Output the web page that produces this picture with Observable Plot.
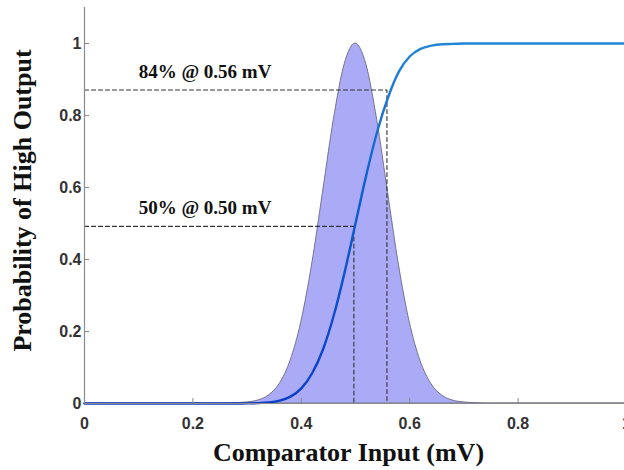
<!DOCTYPE html>
<html>
<head>
<meta charset="utf-8">
<script src="https://cdn.jsdelivr.net/npm/d3@7"></script>
<script src="https://cdn.jsdelivr.net/npm/@observablehq/plot@0.6"></script>
<style>
  html, body { margin: 0; padding: 0; background: #fff; overflow: hidden; }
  #chart { width: 624px; height: 470px; }
</style>
</head>
<body>
<div id="chart"></div>
<script>
// Comparator input (mV) sample points
const inputs = [0, 0.26, 0.28, 0.30, 0.32, 0.34, 0.36, 0.38, 0.40, 0.42, 0.44, 0.46, 0.48, 0.50,
                0.52, 0.54, 0.56, 0.58, 0.60, 0.62, 0.64, 0.66, 0.68, 0.70, 0.72, 0.74, 1];
// Shaded noise distribution (normalised to peak 1)
const density = [0, 0, 0.001, 0.003, 0.008, 0.022, 0.054, 0.118, 0.226, 0.386, 0.586, 0.788, 0.942, 1.0,
                 0.942, 0.788, 0.586, 0.386, 0.226, 0.118, 0.054, 0.022, 0.008, 0.003, 0.001, 0, 0];
// Probability of high output (blue curve)
const probability = [0, 0, 0.0001, 0.0003, 0.001, 0.003, 0.008, 0.019, 0.042, 0.084, 0.150, 0.245, 0.365, 0.500,
                     0.635, 0.755, 0.850, 0.922, 0.964, 0.985, 0.994, 0.998, 0.999, 1.0, 1.0, 1.0, 1.0];
// Marked operating points
const markerInputs = [0.497, 0.558];
const markerLevels = [0.492, 0.871];
const markerLabels = ["50% @ 0.50 mV", "84% @ 0.56 mV"];
// Ticks
const xTicks = [0, 0.2, 0.4, 0.6, 0.8, 1];
const yTicks = [0, 0.2, 0.4, 0.6, 0.8, 1];
const xTickLabels = ["0", "0.2", "0.4", "0.6", "0.8", "1"];
const yTickLabels = ["0", "0.2", "0.4", "0.6", "0.8", "1"];
const xLabel = "Comparator Input (mV)";
const yLabel = "Probability of High Output";

const curve = inputs.map((x, i) => ({x, pdf: density[i], p: probability[i]}));
const guides = markerInputs.flatMap((x, i) => [
  {id: i, x: 0, y: markerLevels[i]},
  {id: i, x: x, y: markerLevels[i]},
  {id: i, x: x, y: 0}
]);
const notes = markerLabels.map((t, i) => ({text: t, y: markerLevels[i]}));

const W = 624, H = 470, mL = 84, mR = -2, mT = 7, mB = 67;
const yMax = 1.1;
const tickPx = 5;
const yTickLen = tickPx / (H - mT - mB) * yMax;
const xTickLen = tickPx / (W - mL - mR);
const serif = "'Liberation Serif', 'Times New Roman', serif";

const plot = Plot.plot({
  width: W, height: H,
  marginLeft: mL, marginRight: mR, marginTop: mT, marginBottom: mB,
  style: {fontFamily: "'Liberation Sans', Arial, sans-serif", fontSize: "16px", color: "#333", background: "#fff", overflow: "visible"},
  x: {domain: [0, 1]},
  y: {domain: [0, yMax]},
  marks: [
    Plot.areaY(curve, {x: "x", y: "pdf", curve: "monotone-x", fill: "#aaaaf7", stroke: "#6a6a80", strokeWidth: 0.9}),
    Plot.line(guides, {x: "x", y: "y", z: "id", stroke: "#333", strokeWidth: 1.1, strokeDasharray: "4,3"}),
    Plot.line(curve, {x: "x", y: "p", curve: "monotone-x", stroke: "url(#cdfGrad)", strokeWidth: 2.4}),
    Plot.ruleY([0], {stroke: "#8a8a8a", strokeWidth: 1.2}),
    Plot.ruleX([0], {y1: 0, y2: yMax, stroke: "#8a8a8a", strokeWidth: 1.2}),
    Plot.ruleX(xTicks, {y1: 0, y2: yTickLen, stroke: "#8a8a8a"}),
    Plot.ruleY(yTicks, {x1: 0, x2: xTickLen, stroke: "#8a8a8a"}),
    Plot.axisX(xTicks, {tickSize: 0, tickPadding: 14, tickFormat: (d, i) => xTickLabels[i], label: null, fontWeight: "bold"}),
    Plot.axisY(yTicks, {tickSize: 0, tickPadding: 3, tickFormat: (d, i) => yTickLabels[i], label: null, fontWeight: "bold"}),
    Plot.text(notes, {x: () => 0.1, y: "y", text: "text", textAnchor: "start", lineAnchor: "bottom", dy: -12,
      fontFamily: serif, fontWeight: "bold", fontSize: 19, fill: "#111"}),
    Plot.text([xLabel], {frameAnchor: "bottom", text: d => d, textAnchor: "middle", lineAnchor: "bottom", dy: 57, dx: -7,
      fontFamily: serif, fontWeight: "bold", fontSize: 26, fill: "#111"}),
    Plot.text([yLabel], {frameAnchor: "left", text: d => d, rotate: -90, textAnchor: "middle", lineAnchor: "bottom", dx: -54, dy: -5,
      fontFamily: serif, fontWeight: "bold", fontSize: 26, fill: "#111"})
  ]
});

const svg = d3.select(plot);
const grad = svg.insert("defs", ":first-child").append("linearGradient")
  .attr("id", "cdfGrad").attr("gradientUnits", "userSpaceOnUse")
  .attr("x1", 0).attr("y1", H - mB).attr("x2", 0).attr("y2", mT + 36);
grad.append("stop").attr("offset", "0%").attr("stop-color", "#0a3ec8");
grad.append("stop").attr("offset", "60%").attr("stop-color", "#1060cc");
grad.append("stop").attr("offset", "100%").attr("stop-color", "#2286d6");

document.getElementById("chart").appendChild(plot);
</script>
</body>
</html>
